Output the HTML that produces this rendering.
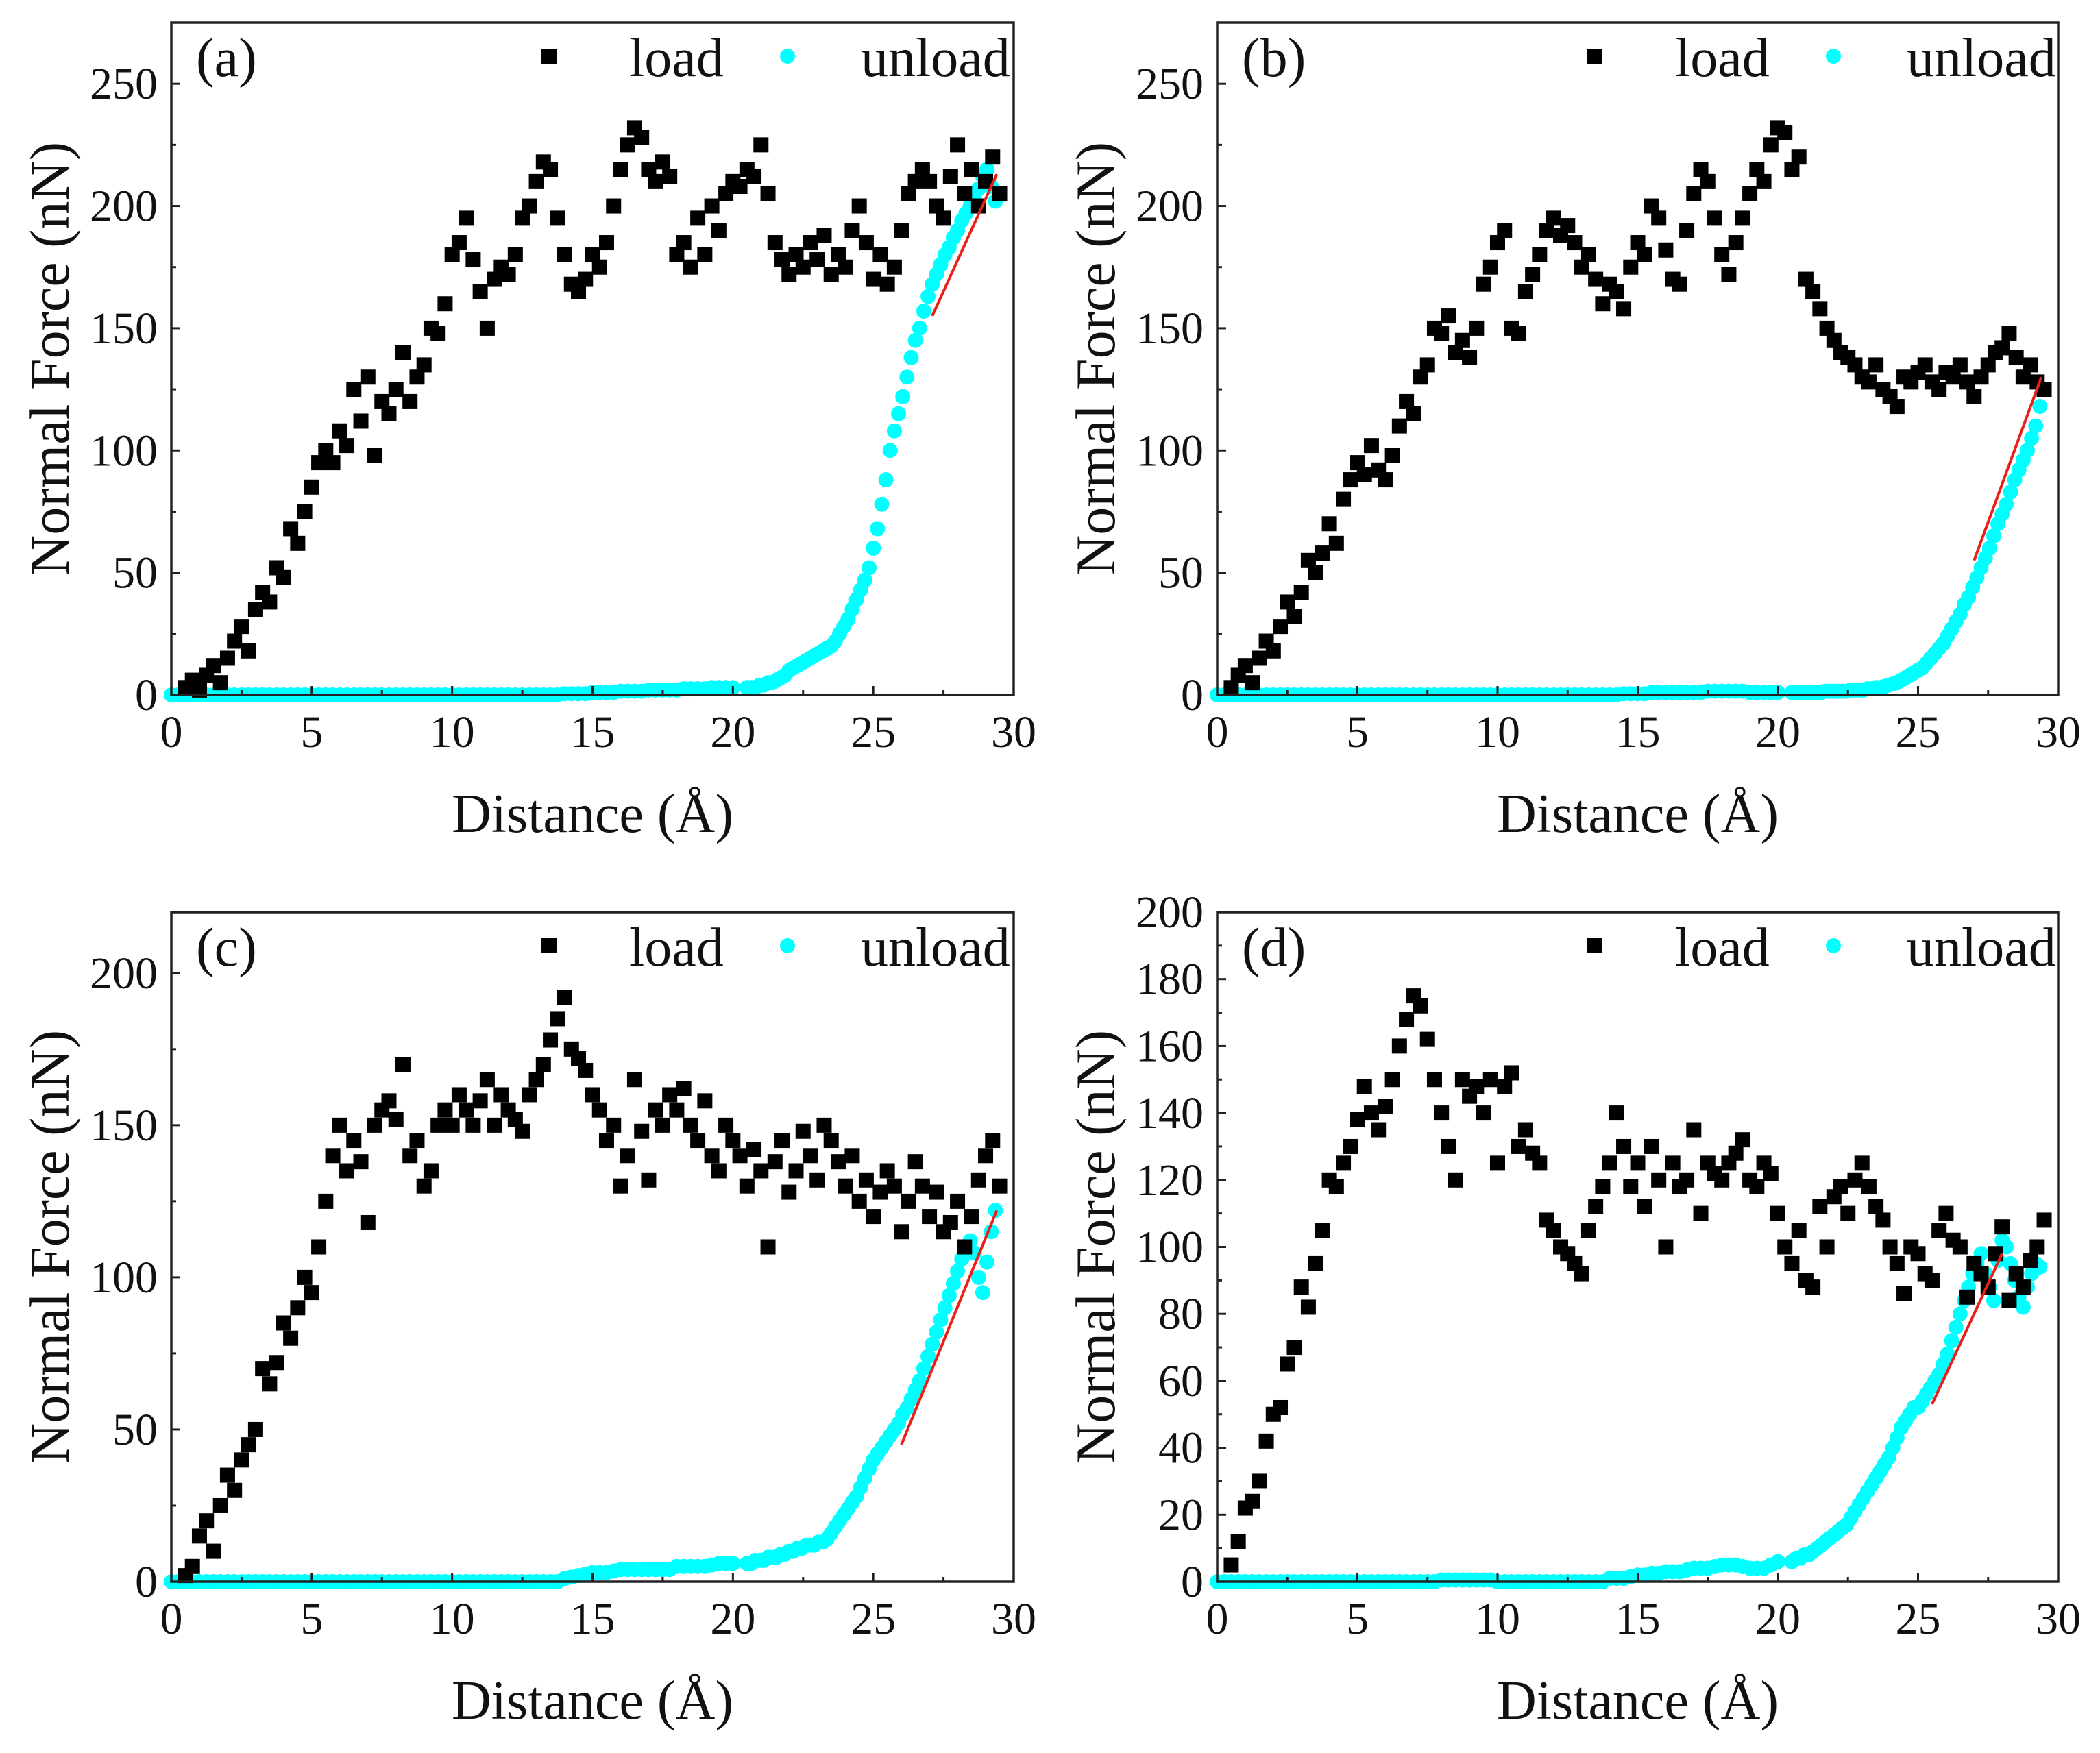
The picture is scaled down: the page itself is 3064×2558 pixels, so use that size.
<!DOCTYPE html>
<html><head><meta charset="utf-8"><style>
html,body{margin:0;padding:0;background:#fff}
svg{display:block}
text{font-family:"Liberation Serif",serif;fill:#111}
</style></head><body>
<svg id="fig" width="3064" height="2558" viewBox="0 0 3064 2558" xmlns="http://www.w3.org/2000/svg"></svg>
<script>
// ---------- data ----------
const loadStart = 0.5, loadStep = 0.25;
const loadA = [3,6,2,8,12,5,15,22,28,18, 35,42,38,52,48,68,62,75,85,95, 100,95,108,102,125,112,130,98,120,115, 125,140,120,130,135,150,148,160,180,185, 195,178,165,150,170,175,172,180,195,200, 210,218,215,195,180,168,165,170,180,175, 185,200,215,225,232,228,215,210,218,212, 180,185,175,195,180,200,190,205,210,208, 215,212,225,205,185,178,172,180,175,185, 178,188,172,180,175,190,200,185,170,180, 168,175,190,205,210,215,210,200,195,212, 225,205,215,200,210,220,205];
const loadB = [3,8,12,5,15,22,18,28,38,32, 42,55,50,58,70,62,80,88,95,90, 102,92,88,98,110,120,115,130,135,150, 148,155,140,145,138,150,168,175,185,190, 150,148,165,172,180,190,195,188,192,185, 175,180,170,160,168,165,158,175,185,180, 200,195,182,170,168,190,205,215,210,195, 180,172,185,195,205,215,210,225,232,230, 215,220,170,165,158,150,145,140,138,135, 130,128,135,125,122,118,130,128,132,135, 128,125,132,130,135,128,122,130,135,140, 142,148,138,130,135,128,125];
const loadC = [2,5,15,20,10,25,35,30,40,45, 50,70,65,72,85,80,90,100,95,110, 125,140,150,135,145,138,118,150,155,158, 152,170,140,145,130,135,150,155,150,160, 155,150,158,165,150,160,155,152,148,160, 165,170,178,185,192,175,172,168,160,155, 145,150,130,140,165,148,132,155,150,160, 155,162,150,145,158,140,135,150,145,140, 130,142,135,110,138,145,128,135,148,140, 132,150,145,138,130,140,125,132,120,128, 135,130,115,125,138,130,120,128,115,118, 125,110,120,132,140,145,130];
const loadD = [5,12,22,24,30,42,50,52,65,70, 88,82,95,105,120,118,125,130,138,148, 140,135,142,150,160,168,175,172,162,150, 140,130,120,150,145,148,140,150,125,148, 152,130,135,128,125,108,105,100,98,95, 92,105,112,118,125,140,130,118,125,112, 130,120,100,125,118,120,135,110,125,122, 120,125,128,132,120,118,125,122,110,100, 95,105,90,88,112,100,115,118,110,120, 125,118,112,108,100,95,86,100,98,92, 90,105,110,102,100,85,95,92,88,98, 106,84,92,88,96,100,108];
// unload: x 0..20 step 0.25 (81 pts), then 20.5..29.35 step 0.15 (60 pts)
const unloadA = [0,0,0,0,0,0,0, 0,0,0,0,0,0,0, 0,0,0,0,0,0,0, 0,0,0,0,0,0,0, 0,0,0,0,0,0,0, 0,0,0,0,0,0,0, 0,0,0,0,0,0,0, 0,0,0,0,0,0,0,
 0.5,0.5,0.5,0.5,1,1,1,1,1.5,1.5,1.5,1.5,2,2,2,2,2,2.5,2.5,2.5,2.5,3,3,3,3,
 3,3,3,4,4,5,5,6,7,8, 10,11,12,13,14,15,16,17,18,19, 20,22,25,28,31,35,39,43,47,52, 60,68,78,88,100,108,115,122,130,138, 145,150,157,163,168,172,176,180,183,187, 190,194,197,200,203,207,212,215,208,202];
const unloadB = [0,0,0,0,0,0,0, 0,0,0,0,0,0,0, 0,0,0,0,0,0,0, 0,0,0,0,0,0,0, 0,0,0,0,0,0,0, 0,0,0,0,0,0,0, 0,0,0,0,0,0,0, 0,0,0,0,0,0,0, 0,0,
 0.5,0.5,0.5,0.5,1,1,1,1,1,1,1,1,1.5,1.5,1.5,1.5,1.5,1.5,1,1,1,1,1,
 1,1,1,1,1,1,1,1,1.5,1.5, 1.5,1.5,1.5,1.5,2,2,2,2,2.5,2.5, 3,3,3.5,4,4.5,5,6,7,8,9, 10,11,13,15,17,19,21,24,27,30, 33,37,40,44,48,52,56,60,65,70, 74,78,83,88,92,96,100,105,110,118];
const unloadC = [0,0,0,0,0,0,0, 0,0,0,0,0,0,0, 0,0,0,0,0,0,0, 0,0,0,0,0,0,0, 0,0,0,0,0,0,0, 0,0,0,0,0,0,0, 0,0,0,0,0,0,0, 0,0,0,0,0,0,0,
 1,1.5,2,2.5,3,3,3,3.5,4,4,4,4,4,4,4,4,5,5,5,5,5,5.5,6,6,6,
 6,6,7,7,7,8,8,8,9,9, 10,10,11,11,12,12,12,13,13,14, 16,18,20,22,24,26,28,31,34,37, 40,42,44,46,48,50,52,55,57,60, 63,66,70,74,78,82,86,90,94,98, 102,106,110,112,108,100,95,105,115,122];
const unloadD = [0,0,0,0,0,0,0, 0,0,0,0,0,0,0, 0,0,0,0,0,0,0, 0,0,0,0,0,0,0, 0,0,0,0,0.5,0.5,0.5, 0.5,0.5,0.5,0.5,0.5,0,0, 0,0,0,0,0,0,0, 0,0,0,0,0,0,0,
 1,1,1,1.5,2,2,2.5,2.5,3,3,3,3.5,4,4,4,4.5,5,5,5,4.5,4,4,4,5,6,
 6,7,7,8,8,9,10,11,12,13, 14,15,16,17,19,21,23,25,27,29, 31,33,35,37,40,43,46,48,50,52, 52,54,56,58,60,62,65,68,72,76, 80,84,88,92,95,98,92,88,84,96, 102,100,95,90,85,82,88,92,95,94];
const fitA = [[27.1,155],[29.4,213]];
const fitB = [[27.0,55],[29.4,130]];
const fitC = [[26.0,45],[29.4,122]];
const fitD = [[25.5,53],[28.0,98]];
const xTicks = [0,5,10,15,20,25,30];
const yTicksAB = [0,50,100,150,200,250];
const yTicksC = [0,50,100,150,200];
const yTicksD = [0,20,40,60,80,100,120,140,160,180,200];
const labels = ['(a)','(b)','(c)','(d)'];

// ---------- drawing ----------
const NS='http://www.w3.org/2000/svg';
const svg=document.getElementById('fig');
function mk(tag,attrs,parent){const e=document.createElementNS(NS,tag);for(const k in attrs)e.setAttribute(k,attrs[k]);(parent||svg).appendChild(e);return e;}
function unloadX(i){return i<81? i*0.25 : 20.5+(i-81)*0.15;}

function panel(id,L,R,T,B,yMax,yTicks,minorStep,load,unload,fit,label){
  const g=mk('g',{});
  
  
  const sx=v=>L+(v/30)*(R-L);
  const sy=v=>B-(v/yMax)*(B-T);
  const gu=mk('g',{fill:'#00ffff'},g);
  
  
  unload.forEach((v,i)=>{const c=mk('circle',{cx:sx(unloadX(i)),cy:sy(v),r:11},gu);
    
    });
  const gl=mk('g',{fill:'#000'},g);
  
  
  load.forEach((v,i)=>{const x=sx(loadStart+i*loadStep),y=sy(v);const r=mk('rect',{x:x-11,y:y-11,width:22,height:22},gl);
    
    });
  const fl=mk('line',{x1:sx(fit[0][0]),y1:sy(fit[0][1]),x2:sx(fit[1][0]),y2:sy(fit[1][1]),stroke:'#e8201a','stroke-width':4},g);
  
  
  const fr=mk('rect',{x:L,y:T,width:R-L,height:B-T,fill:'none',stroke:'#222','stroke-width':3.5},g);
  
  
  for(let v=0;v<=30;v+=2.5){const maj=v%5===0;mk('line',{x1:sx(v),x2:sx(v),y1:B,y2:B-(maj?13:7),stroke:'#222','stroke-width':3},g);}
  xTicks.forEach(v=>{const t=mk('text',{x:sx(v),y:B+76,'font-size':66,'text-anchor':'middle'},g);t.textContent=v;
    
    });
  for(let v=0;v<=yMax+0.01;v+=minorStep){const maj=yTicks.includes(Math.round(v));mk('line',{x1:L,x2:L+(maj?13:7),y1:sy(v),y2:sy(v),stroke:'#222','stroke-width':3},g);}
  yTicks.forEach(v=>{const t=mk('text',{x:L-20,y:sy(v)+22,'font-size':66,'text-anchor':'end'},g);t.textContent=v;
    
    });
  const xt=mk('text',{x:(L+R)/2,y:B+200,'font-size':80,'text-anchor':'middle'},g);xt.textContent='Distance (Å)';
  
  
  const cy=(T+B)/2;
  const yt=mk('text',{x:L-150,y:cy,'font-size':82,'text-anchor':'middle',transform:`rotate(-90 ${L-150} ${cy})`},g);yt.textContent='Normal Force (nN)';
  
  
  const pl=mk('text',{x:L+36,y:T+78,'font-size':80},g);pl.textContent=label;
  
  
  const lg=mk('g',{},g);
  
  
  const ls=mk('rect',{x:L+540,y:T+38,width:22,height:22,fill:'#000'},lg);
  
  
  const lt=mk('text',{x:L+668,y:T+78,'font-size':80},lg);lt.textContent='load';
  
  
  const lc=mk('circle',{cx:L+899,cy:T+49,r:11,fill:'#00ffff'},lg);
  
  
  const lu=mk('text',{x:L+1006,y:T+78,'font-size':80},lg);lu.textContent='unload';
  
  
}
panel('a',250,1479,33,1014,275,yTicksAB,25,loadA,unloadA,fitA,labels[0]);
panel('b',1776,3003,33,1014,275,yTicksAB,25,loadB,unloadB,fitB,labels[1]);
panel('c',250,1479,1331,2308,220,yTicksC,25,loadC,unloadC,fitC,labels[2]);
panel('d',1776,3003,1331,2308,200,yTicksD,10,loadD,unloadD,fitD,labels[3]);
</script>
</body></html>
